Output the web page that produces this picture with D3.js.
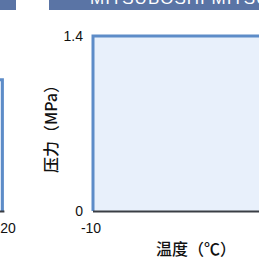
<!DOCTYPE html>
<html>
<head>
<meta charset="utf-8">
<script src="https://cdn.jsdelivr.net/npm/d3@7"></script>
<style>
body { margin: 0; background: #fff; overflow: hidden; }
svg { display: block; }
</style>
</head>
<body>
<svg id="chart" width="259" height="260"></svg>
<script>
//Data for the two visible panels (left one is mostly cropped off)
var leftTemps = [-10, 19];
var leftPressure = [1.05, 1.05];
var mainTemps = [-10, 43];
var mainPressure = [1.4, 1.4];
var yTicks = [0, 1.4];
var leftXTicks = [20];
var mainXTicks = [-10];
var headerTitle = "MITSUBOSHI MITSUKI PC";
var xTitle = "温度（℃）";
var yTitle = "压力（MPa）";

var svg = d3.select("#chart");
var lineBlue = "#5d8cc8", fillBlue = "#e8f0fb", axisDark = "#3a3e45", headBlue = "#5a74a5";

//Shared y scale
var y = d3.scaleLinear().domain([0, 1.4]).range([211, 36]);
//Each panel has its own x scale
var xLeft = d3.scaleLinear().domain([-10, 20]).range([-160, 8]);
var xMain = d3.scaleLinear().domain([-10, 43]).range([93, 420]);

//Header bars at top (title text is mostly above the visible area)
svg.append("rect").attr("x", 0).attr("y", 0).attr("width", 16).attr("height", 10).attr("fill", headBlue);
svg.append("rect").attr("x", 49).attr("y", 0).attr("width", 220).attr("height", 10).attr("fill", headBlue);
svg.append("text").attr("x", 90).attr("y", 4).attr("fill", "#fff")
    .attr("font-family", "Liberation Sans, Arial, sans-serif").attr("font-size", 17)
    .attr("letter-spacing", 1).text(headerTitle);

function drawPanel(x, temps, pres) {
    var pts = temps.map(function(t, i) { return [t, pres[i]]; });
    var area = d3.area().x(function(d) { return x(d[0]); }).y0(y(0)).y1(function(d) { return y(d[1]); });
    svg.append("path").datum(pts).attr("d", area).attr("fill", fillBlue);
    //outline: up the left side, along the top, down the right side
    var outline = [[pts[0][0], 0]].concat(pts).concat([[pts[pts.length - 1][0], 0]]);
    var line = d3.line().x(function(d) { return x(d[0]); }).y(function(d) { return y(d[1]); });
    svg.append("path").datum(outline).attr("d", line).attr("fill", "none")
        .attr("stroke", lineBlue).attr("stroke-width", 3);
    //dark baseline
    svg.append("line").attr("x1", x(temps[0])).attr("x2", x(temps[temps.length - 1]) + 2)
        .attr("y1", y(0) + 0.5).attr("y2", y(0) + 0.5)
        .attr("stroke", axisDark).attr("stroke-width", 2);
}

drawPanel(xLeft, leftTemps, leftPressure);
drawPanel(xMain, mainTemps, mainPressure);

var tickFont = "Liberation Sans, Arial, Helvetica, sans-serif";
//y tick labels of main panel
svg.selectAll(".ytick").data(yTicks).enter().append("text")
    .attr("x", 83).attr("y", function(d) { return y(d); }).attr("dy", "0.35em")
    .attr("text-anchor", "end").attr("font-family", tickFont).attr("font-size", 14).attr("fill", "#111")
    .text(function(d) { return d; });
//x tick labels
svg.selectAll(".xtickl").data(leftXTicks).enter().append("text")
    .attr("x", function(d) { return xLeft(d); }).attr("y", 233)
    .attr("text-anchor", "middle").attr("font-family", tickFont).attr("font-size", 14).attr("fill", "#111")
    .text(function(d) { return d; });
svg.selectAll(".xtickm").data(mainXTicks).enter().append("text")
    .attr("x", function(d) { return xMain(d) - 2; }).attr("y", 233)
    .attr("text-anchor", "middle").attr("font-family", tickFont).attr("font-size", 14).attr("fill", "#111")
    .text(function(d) { return d; });

//axis titles
var cjkFont = "'Noto Sans CJK SC', 'Noto Sans', sans-serif";
svg.append("text").attr("x", 196).attr("y", 255).attr("text-anchor", "middle")
    .attr("font-family", cjkFont).attr("font-size", 16).attr("font-weight", 500).attr("fill", "#111")
    .text(xTitle);
svg.append("text").attr("transform", "translate(57,125) rotate(-90)").attr("text-anchor", "middle")
    .attr("font-family", cjkFont).attr("font-size", 16).attr("font-weight", 500).attr("fill", "#111")
    .text(yTitle);
</script>
</body>
</html>
